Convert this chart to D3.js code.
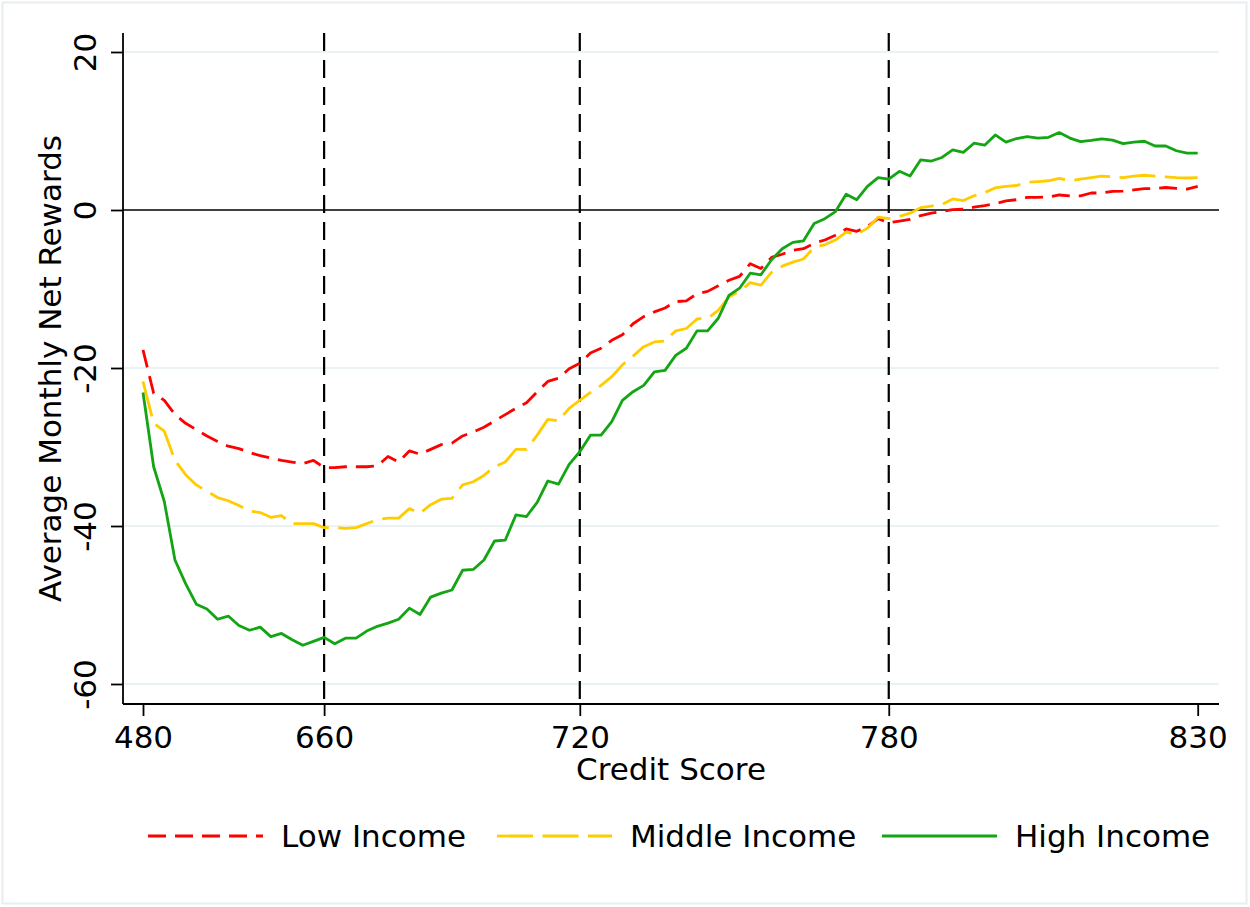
<!DOCTYPE html>
<html>
<head>
<meta charset="utf-8">
<script src="https://cdn.jsdelivr.net/npm/d3@7"></script>
<style>
  html, body { margin: 0; padding: 0; background: #fff; }
  svg { display: block; font-family: "DejaVu Sans", sans-serif; }
</style>
</head>
<body>
<svg id="chart" width="1250" height="907"></svg>
<script>
// Credit-score rank (100 bins, 0..99) and average monthly net rewards by income group
const rankIndex = d3.range(100);

const lowIncome = [
  -17.7, -23.2, -24.1, -25.9, -27.0, -27.8, -28.6, -29.3, -29.9, -30.2,
  -30.7, -31.1, -31.4, -31.7, -31.9, -32.1, -31.7, -32.6, -32.6, -32.5,
  -32.5, -32.5, -32.4, -31.2, -31.9, -30.5, -30.9, -30.3, -29.7, -29.5,
  -28.6, -28.1, -27.5, -26.7, -25.9, -25.1, -24.4, -23.0, -21.7, -21.3,
  -20.1, -19.4, -18.1, -17.5, -16.5, -15.8, -14.4, -13.5, -12.9, -12.4,
  -11.6, -11.5, -10.6, -10.3, -9.6, -8.9, -8.4, -6.8, -7.4, -6.0,
  -5.6, -5.1, -4.9, -4.2, -3.8, -3.2, -2.4, -2.7, -2.1, -1.1,
  -1.6, -1.4, -1.2, -0.7, -0.4, -0.2, 0.05, 0.1, 0.35, 0.55,
  0.8, 1.15, 1.3, 1.6, 1.6, 1.65, 1.9, 1.8, 1.8, 2.15,
  2.15, 2.35, 2.4, 2.55, 2.7, 2.7, 2.85, 2.75, 2.65, 3.0
];

const middleIncome = [
  -21.7, -27.0, -28.0, -31.7, -33.5, -34.8, -35.6, -36.4, -36.8, -37.4,
  -38.1, -38.3, -38.9, -38.7, -39.7, -39.7, -39.7, -40.2, -40.2, -40.3,
  -40.2, -39.7, -39.2, -39.0, -39.0, -37.8, -38.4, -37.3, -36.6, -36.5,
  -34.8, -34.4, -33.6, -32.5, -31.9, -30.3, -30.3, -28.5, -26.5, -26.7,
  -25.1, -24.1, -23.1, -22.2, -21.1, -19.6, -18.5, -17.3, -16.7, -16.6,
  -15.3, -15.0, -13.8, -13.7, -12.7, -11.0, -10.3, -9.2, -9.5, -7.9,
  -7.1, -6.6, -6.2, -4.7, -4.4, -3.8, -2.8, -3.1, -2.3, -0.9,
  -1.1, -0.8, -0.4, 0.3, 0.5, 0.7, 1.4, 1.2, 1.8, 2.2,
  2.8, 3.0, 3.1, 3.5, 3.6, 3.7, 4.0, 3.7, 3.9, 4.1,
  4.3, 4.2, 4.1, 4.3, 4.4, 4.3, 4.2, 4.1, 4.05, 4.1
];

const highIncome = [
  -23.1, -32.5, -36.9, -44.3, -47.3, -49.9, -50.5, -51.8, -51.4, -52.6,
  -53.2, -52.8, -54.0, -53.6, -54.4, -55.1, -54.6, -54.1, -54.9, -54.2,
  -54.2, -53.3, -52.7, -52.3, -51.8, -50.4, -51.2, -49.0, -48.5, -48.1,
  -45.6, -45.5, -44.3, -41.9, -41.8, -38.6, -38.8, -37.0, -34.3, -34.7,
  -32.2, -30.6, -28.5, -28.5, -26.8, -24.1, -23.0, -22.2, -20.5, -20.3,
  -18.4, -17.5, -15.3, -15.3, -13.7, -10.8, -9.9, -8.0, -8.2, -6.3,
  -4.9, -4.1, -3.9, -1.7, -1.1, -0.2, 2.0, 1.3, 3.0, 4.1,
  3.9, 4.9, 4.3, 6.35, 6.2, 6.65, 7.6, 7.3, 8.45, 8.2,
  9.5, 8.6, 9.05, 9.3, 9.1, 9.2, 9.8, 9.1, 8.65, 8.8,
  9.0, 8.85, 8.4, 8.6, 8.7, 8.1, 8.1, 7.5, 7.2, 7.2
];

// Axis ticks: rank position of each labelled credit score
const scoreTickIndex = [0, 17, 41, 70, 99];
const scoreTickLabels = ["480", "660", "720", "780", "830"];
const cutoffIndex = [17, 41, 70];          // dashed reference lines at 660 / 720 / 780
const yTicks = [-60, -40, -20, 0, 20];

const seriesNames = ["Low Income", "Middle Income", "High Income"];
const seriesValues = [lowIncome, middleIncome, highIncome];

// ---- styling / layout ----
const colors = ["#ff0000", "#ffcc00", "#13a513"];
const dashes = ["18,9", "36,9.5", null];
const plot = { left: 123, right: 1219, top: 33, bottom: 704 };

const svg = d3.select("#chart");

// faint outer frame
svg.append("rect")
  .attr("x", 2.5).attr("y", 2.5).attr("width", 1244).attr("height", 901)
  .attr("fill", "#fff").attr("stroke", "#e8eef0").attr("stroke-width", 2);

const x = d3.scaleLinear().domain([0, 99]).range([143, 1197.7]);
const y = d3.scaleLinear().domain([-60, 20]).range([684, 52]);

// horizontal grid
svg.append("g").selectAll("line")
  .data(yTicks.filter(v => v !== 0))
  .join("line")
  .attr("x1", plot.left).attr("x2", plot.right)
  .attr("y1", d => y(d)).attr("y2", d => y(d))
  .attr("stroke", "#eaf2f3").attr("stroke-width", 2);

// zero line
svg.append("line")
  .attr("x1", plot.left).attr("x2", plot.right)
  .attr("y1", y(0)).attr("y2", y(0))
  .attr("stroke", "#000").attr("stroke-width", 1.6);

// vertical cutoff lines
svg.append("g").selectAll("line")
  .data(cutoffIndex)
  .join("line")
  .attr("x1", d => x(d)).attr("x2", d => x(d))
  .attr("y1", plot.top).attr("y2", plot.bottom)
  .attr("stroke", "#000").attr("stroke-width", 2.2)
  .attr("stroke-dasharray", "18,9");

// series lines
const line = d3.line()
  .x((d, i) => x(rankIndex[i]))
  .y(d => y(d));

svg.append("g").selectAll("path")
  .data(seriesValues)
  .join("path")
  .attr("d", d => line(d))
  .attr("fill", "none")
  .attr("stroke", (d, i) => colors[i])
  .attr("stroke-width", 2.8)
  .attr("stroke-linejoin", "round")
  .attr("stroke-dasharray", (d, i) => dashes[i]);

// y axis (plain hyphen for negative labels)
const yAxis = d3.axisLeft(y).tickValues(yTicks).tickSize(12).tickFormat(d => String(d));
const gy = svg.append("g").attr("transform", `translate(${plot.left},0)`).call(yAxis);
gy.select(".domain").remove();
gy.selectAll(".tick line").attr("stroke", "#000").attr("stroke-width", 1.8);
gy.selectAll(".tick text")
  .attr("transform", "rotate(-90)")
  .attr("x", 0).attr("y", -27).attr("dy", 0)
  .attr("text-anchor", "middle")
  .attr("font-size", 31).attr("fill", "#000")
  .attr("font-family", "DejaVu Sans");
svg.append("line")
  .attr("x1", plot.left).attr("x2", plot.left)
  .attr("y1", plot.top).attr("y2", plot.bottom)
  .attr("stroke", "#000").attr("stroke-width", 1.8);

// x axis
const xAxis = d3.axisBottom(x).tickValues(scoreTickIndex).tickSize(12)
  .tickFormat((d, i) => scoreTickLabels[i]);
const gx = svg.append("g").attr("transform", `translate(0,${plot.bottom})`).call(xAxis);
gx.select(".domain").remove();
gx.selectAll(".tick line").attr("stroke", "#000").attr("stroke-width", 1.8);
gx.selectAll(".tick text")
  .attr("y", 44).attr("dy", 0)
  .attr("font-size", 31).attr("fill", "#000")
  .attr("font-family", "DejaVu Sans");
svg.append("line")
  .attr("x1", plot.left).attr("x2", plot.right)
  .attr("y1", plot.bottom).attr("y2", plot.bottom)
  .attr("stroke", "#000").attr("stroke-width", 1.8);

// axis titles
svg.append("text")
  .attr("x", (plot.left + plot.right) / 2).attr("y", 780)
  .attr("text-anchor", "middle").attr("font-size", 31)
  .text("Credit Score");

svg.append("text")
  .attr("transform", `translate(61,${(plot.top + plot.bottom) / 2}) rotate(-90)`)
  .attr("text-anchor", "middle").attr("font-size", 31)
  .text("Average Monthly Net Rewards");

// legend
const legendX = [148, 497, 882];
const legend = svg.append("g").selectAll("g")
  .data(seriesNames)
  .join("g")
  .attr("transform", (d, i) => `translate(${legendX[i]},836)`);
legend.append("line")
  .attr("x1", 0).attr("x2", 115).attr("y1", 0).attr("y2", 0)
  .attr("stroke", (d, i) => colors[i])
  .attr("stroke-width", 2.8)
  .attr("stroke-dasharray", (d, i) => dashes[i]);
legend.append("text")
  .attr("x", 133).attr("y", 11)
  .attr("font-size", 31)
  .text(d => d);
</script>
</body>
</html>
